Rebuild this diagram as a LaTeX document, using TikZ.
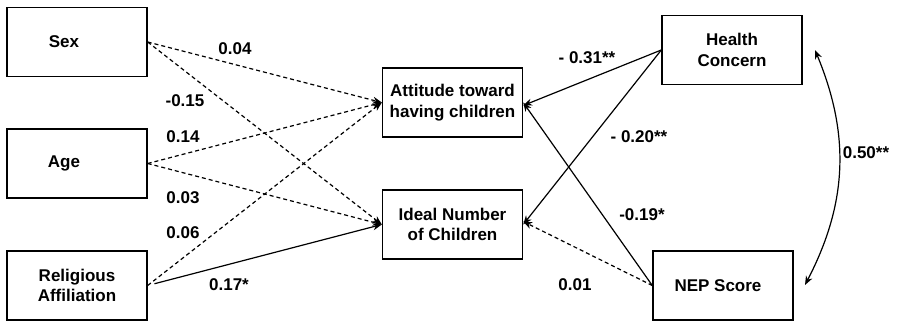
\documentclass[tikz,border=0pt]{standalone}
\usepackage{fontspec}
\setmainfont{Liberation Sans}
\usetikzlibrary{arrows,arrows.meta,shapes}
\tikzstyle{vbox}=[rectangle,draw=black,line width=1.4pt,minimum width=140pt,minimum height=69pt,inner sep=0pt,align=center,font=\bfseries\fontsize{17}{20.5}\selectfont]
\tikzstyle{coef}=[inner sep=0pt,font=\bfseries\fontsize{17}{20}\selectfont]
\tikzstyle{eff}=[->, >={Stealth[length=9pt,width=7pt]}, line width=1.2pt]
\tikzstyle{ns}=[dash pattern=on 4pt off 3pt]

\begin{document}
\begin{tikzpicture}[x=1pt,y=-1pt,eff]
\useasboundingbox (0,0) rectangle (897,324);
\node[vbox] (Sex) at (77,42) {Sex\hspace{26pt}};
\node[vbox] (Age) at (77,163.5) {Age\hspace{26pt}};
\node[vbox] (Rel) at (77,285.5) {Religious\\Affiliation};
\node[vbox] (Att) at (452.5,102.5) {Attitude toward\\having children};
\node[vbox] (Ideal) at (452.5,224.5) {Ideal Number\\of Children};
\node[vbox] (Health) at (732,50) {Health\\Concern};
\node[vbox] (NEP) at (723,285.5) {NEP Score\hspace{10pt}};
\coordinate (HC) at (815,50);
\coordinate (NC) at (805,285);
\draw[ns] (Sex.east)--(Att.west);
\draw[ns] (Sex.east)--(Ideal.west);
\draw[ns] (Age.east)--(Att.west);
\draw[ns] (Age.east)--(Ideal.west);
\draw[ns] (Rel.east)--(Att.west);
\draw[shorten <=7pt] (Rel.east)--(Ideal.west);
\draw (Health.west)--([yshift=-3pt]Att.east);
\draw (Health.west)--(Ideal.east);
\draw (NEP.west)--(Att.east);
\draw[ns] (NEP.west)--([yshift=3pt]Ideal.east);
\draw[<->] (HC) to [bend left=25] (NC);
\node[coef] (c1) at (235,49) {0.04};
\node[coef] (c2) at (185,101) {-0.15};
\node[coef] (c3) at (183,137) {0.14};
\node[coef] (c4) at (183,198) {0.03};
\node[coef] (c5) at (183,233) {0.06};
\node[coef] (c6) at (229,285) {0.17*};
\node[coef] (c7) at (587,58) {- 0.31**};
\node[coef] (c8) at (639,137) {- 0.20**};
\node[coef] (c9) at (642,215) {-0.19*};
\node[coef] (c10) at (575,285) {0.01};
\node[coef] (c11) at (866,153) {0.50**};
\end{tikzpicture}
\end{document}
